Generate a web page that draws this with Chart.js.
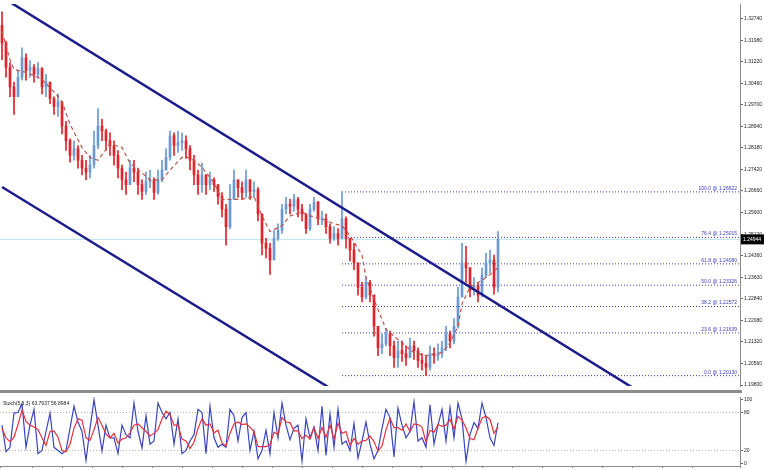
<!DOCTYPE html>
<html>
<head>
<meta charset="utf-8">
<script src="https://cdn.jsdelivr.net/npm/chart.js@4.4.0/dist/chart.umd.min.js"></script>
<style>
  html, body { margin: 0; padding: 0; background: #fff; }
  #wrap { position: relative; width: 764px; height: 470px; overflow: hidden; }
  #main { position: absolute; left: 0; top: 0; }
  #sep { position: absolute; left: 0; top: 390px; width: 742px; height: 3px; background: #8c8c8c; }
  #stoch { position: absolute; left: 0; top: 393px; }
</style>
</head>
<body>
<div id="wrap">
  <canvas id="main" width="764" height="390"></canvas>
  <div id="sep"></div>
  <canvas id="stoch" width="764" height="77"></canvas>
</div>
<script>
// price bars, one per period (open = previous close)
const firstOpen = 1.32500;
const closes = [
  1.31878, 1.31016, 1.30326, 1.29981, 1.30671, 1.31361, 1.30912, 1.31016, 1.30774, 1.30981,
  1.30326, 1.30498, 1.29912, 1.29636, 1.29808, 1.28946, 1.28428, 1.27911, 1.28152, 1.27738,
  1.27462, 1.27324, 1.27566, 1.28256, 1.28946, 1.28773, 1.28428, 1.28256, 1.27911, 1.27462,
  1.27048, 1.26876, 1.27462, 1.27324, 1.26876, 1.26634, 1.26979, 1.27048, 1.26600, 1.27048,
  1.27393, 1.27842, 1.28601, 1.28256, 1.28359, 1.28428, 1.28152, 1.27738, 1.27221, 1.26876,
  1.27221, 1.26876, 1.27048, 1.26876, 1.26462, 1.26013, 1.25392, 1.26358, 1.27048, 1.26772,
  1.26600, 1.27048, 1.26634, 1.26703, 1.25841, 1.24806, 1.24633, 1.24219, 1.24978, 1.25254,
  1.26013, 1.26186, 1.26117, 1.26358, 1.26013, 1.25841, 1.25323, 1.26013, 1.26255, 1.25668,
  1.25668, 1.25392, 1.24978, 1.25151, 1.24978, 1.25668, 1.24978, 1.24564, 1.24116, 1.23253,
  1.22908, 1.23426, 1.22977, 1.21873, 1.21114, 1.21252, 1.21597, 1.21183, 1.20769, 1.21011,
  1.20907, 1.20769, 1.21183, 1.21011, 1.20666, 1.20562, 1.20424, 1.20907, 1.20838, 1.20942,
  1.21114, 1.21597, 1.21356, 1.21873, 1.22908, 1.24116, 1.23943, 1.23150, 1.23322, 1.22977,
  1.23667, 1.24116, 1.24219, 1.23253, 1.24944
];
const highs = [
  1.32982, 1.31950, 1.31188, 1.30498, 1.30912, 1.31706, 1.31500, 1.31257, 1.31119, 1.31188,
  1.31016, 1.30774, 1.30498, 1.29981, 1.30084, 1.29808, 1.29118, 1.28497, 1.28428, 1.28256,
  1.27911, 1.27738, 1.27911, 1.28773, 1.29567, 1.29187, 1.28842, 1.28704, 1.28428, 1.28083,
  1.27566, 1.27324, 1.27738, 1.27738, 1.27462, 1.27048, 1.27324, 1.27393, 1.27117, 1.27393,
  1.27738, 1.28152, 1.28773, 1.28704, 1.28773, 1.28704, 1.28601, 1.28256, 1.27911, 1.27393,
  1.27635, 1.27221, 1.27324, 1.27117, 1.26876, 1.26600, 1.26186, 1.26876, 1.27393, 1.27048,
  1.26979, 1.27393, 1.27048, 1.26979, 1.26772, 1.25841, 1.24978, 1.24806, 1.25254, 1.25496,
  1.26186, 1.26427, 1.26358, 1.26531, 1.26427, 1.26186, 1.25841, 1.26186, 1.26427, 1.26289,
  1.25944, 1.25841, 1.25496, 1.25392, 1.25323, 1.26622, 1.25737, 1.24978, 1.24806, 1.24116,
  1.23426, 1.23598, 1.23495, 1.22977, 1.21873, 1.21597, 1.21804, 1.21701, 1.21356, 1.21356,
  1.21356, 1.21183, 1.21459, 1.21356, 1.21114, 1.20907, 1.20838, 1.21183, 1.21114, 1.21252,
  1.21356, 1.21873, 1.21701, 1.22149, 1.23253, 1.24806, 1.24702, 1.23943, 1.23598, 1.23426,
  1.23943, 1.24461, 1.24564, 1.24392, 1.25220
];
const lows = [
  1.31292, 1.30671, 1.29981, 1.29360, 1.29981, 1.30567, 1.30567, 1.30671, 1.30498, 1.30636,
  1.30084, 1.29981, 1.29739, 1.29360, 1.29291, 1.28670, 1.28083, 1.27669, 1.27738, 1.27462,
  1.27221, 1.27048, 1.27117, 1.27462, 1.28152, 1.28428, 1.28083, 1.27911, 1.27566, 1.27117,
  1.26703, 1.26531, 1.26876, 1.26979, 1.26531, 1.26358, 1.26531, 1.26772, 1.26358, 1.26531,
  1.26979, 1.27393, 1.27738, 1.27911, 1.28014, 1.28083, 1.27807, 1.27393, 1.26876, 1.26531,
  1.26600, 1.26531, 1.26703, 1.26634, 1.26186, 1.25737, 1.24737, 1.25323, 1.26358, 1.26427,
  1.26358, 1.26427, 1.26358, 1.26427, 1.25599, 1.24392, 1.24288, 1.23702, 1.24219, 1.24909,
  1.25151, 1.25841, 1.25841, 1.25944, 1.25737, 1.25599, 1.25151, 1.25254, 1.25944, 1.25461,
  1.25461, 1.25151, 1.24806, 1.24909, 1.24737, 1.24978, 1.24633, 1.24185, 1.23874, 1.22977,
  1.22736, 1.22840, 1.22736, 1.21528, 1.20838, 1.20907, 1.21183, 1.20838, 1.20424, 1.20424,
  1.20631, 1.20493, 1.20769, 1.20700, 1.20424, 1.20321, 1.20130, 1.20321, 1.20562, 1.20666,
  1.20769, 1.21011, 1.21114, 1.21252, 1.21804, 1.22908, 1.23426, 1.22908, 1.22977, 1.22736,
  1.22908, 1.23598, 1.23771, 1.23012, 1.23081
];

// moving average (dashed), read at some bars
const maIdx = [0, 2, 3, 6, 10, 13, 15, 17, 20, 22, 24, 27, 30, 32, 35, 37, 40, 42, 45, 47,
  50, 53, 55, 60, 63, 65, 67, 70, 72, 75, 77, 80, 83, 85, 87, 90, 91, 94, 96, 100,
  103, 106, 110, 112, 114, 115, 117, 120, 122, 124];
const maVals = [1.32292, 1.31292, 1.30947, 1.30843, 1.30602, 1.30153, 1.29808, 1.29015, 1.28187, 1.27842,
  1.27738, 1.28325, 1.28187, 1.27635, 1.27290, 1.27048, 1.27048, 1.27393, 1.27842, 1.27842,
  1.27497, 1.26945, 1.26358, 1.26358, 1.26462, 1.25772, 1.25220, 1.25427, 1.25772, 1.25910,
  1.25772, 1.25668, 1.25496, 1.25427, 1.25081, 1.24392, 1.23598, 1.22460, 1.21769, 1.21287,
  1.20942, 1.20838, 1.20942, 1.21287, 1.21873, 1.22667, 1.23253, 1.23495, 1.23702, 1.23943];

// trend channel (bar index, price)
const upperIdx = [0, 160];
const upperPrice = [1.33500, 1.19500];
const lowerIdx = [0, 85];
const lowerPrice = [1.26796, 1.19430];

// fibonacci levels
const fibStart = 85;
const fibPct = [100.0, 76.4, 61.8, 50.0, 38.2, 23.6, 0.0];
const fibPrices = [1.26622, 1.25015, 1.24080, 1.23326, 1.22572, 1.21639, 1.20130];
const lastPrice = 1.24944;

const yTicks = [1.32740, 1.31980, 1.31220, 1.30460, 1.29700, 1.28940, 1.28180, 1.27420, 1.26660,
  1.25900, 1.25120, 1.24360, 1.23600, 1.22840, 1.22080, 1.21320, 1.20560, 1.19800];

// stochastic (5,3,3)
const stochMain = [
  60, 18, 25, 79, 80, 94, 25, 60, 85, 15, 20, 50, 79, 25, 20, 15, 20, 55, 90, 65,
  50, 4, 55, 100, 60, 19, 60, 40, 40, 15, 60, 45, 40, 95, 50, 24, 75, 30, 35, 95,
  80, 70, 80, 30, 70, 15, 20, 35, 45, 85, 80, 15, 90, 40, 25, 30, 25, 85, 75, 35,
  72, 80, 20, 50, 7, 20, 52, 15, 80, 40, 95, 60, 37, 55, 60, 3, 70, 40, 57, 20,
  90, 12, 78, 25, 85, 30, 35, 20, 63, 8, 35, 65, 30, 7, 20, 55, 85, 72, 10, 87,
  60, 40, 50, 97, 35, 40, 25, 92, 30, 60, 85, 35, 88, 40, 95, 70, 3, 45, 64, 55,
  95, 72, 40, 28, 63.79
];
const stochSignal = [
  55, 40, 34, 41, 61, 84, 66, 60, 57, 53, 40, 28, 50, 51, 41, 20, 18, 30, 55, 70,
  68, 40, 36, 53, 72, 60, 46, 40, 47, 32, 38, 40, 48, 60, 62, 56, 50, 43, 47, 53,
  70, 82, 77, 60, 60, 38, 35, 23, 33, 55, 70, 60, 62, 48, 52, 32, 27, 47, 62, 65,
  61, 62, 57, 50, 26, 26, 26, 29, 49, 45, 72, 65, 64, 51, 51, 39, 44, 38, 56, 39,
  56, 41, 60, 38, 63, 47, 50, 28, 39, 30, 35, 36, 43, 34, 19, 27, 53, 71, 56, 56,
  52, 62, 50, 62, 61, 57, 33, 52, 49, 61, 58, 60, 69, 54, 74, 68, 56, 39, 37, 55,
  71, 74, 69, 47, 56.90
];
const stochTicks = [0, 20, 80, 100];
const stochLevels = [20, 80];
const stochTitle = "Stoch(5,3,3) 63.7937 56.8984";

const xMin = -0.5, xMax = 184.5;
const bullColor = "#6a98d6";
const bearColor = "#e3222a";
const fibColor = "#3b3bbf";
const font5 = { size: 5, family: "Liberation Sans" };

let opens = closes.map((c, i) => i === 0 ? firstOpen : closes[i - 1]);
let barColors = closes.map((c, i) => c >= opens[i] ? bullColor : bearColor);

let fibSets = fibPrices.map(p => ({
  type: "line",
  data: [{ x: fibStart, y: p }, { x: xMax, y: p }],
  borderColor: fibColor,
  borderWidth: 1,
  borderDash: [1, 2],
  pointRadius: 0,
  order: 9
}));

const overlay = {
  id: "overlay",
  afterDatasetsDraw(chart) {
    const { ctx, chartArea, scales: { y } } = chart;
    ctx.save();
    ctx.font = '5px "Liberation Sans"';
    ctx.fillStyle = fibColor;
    ctx.textAlign = "right";
    ctx.textBaseline = "bottom";
    fibPct.forEach((p, k) => {
      let py = y.getPixelForValue(fibPrices[k]);
      ctx.fillText(p.toFixed(1) + " @ " + fibPrices[k].toFixed(5), chartArea.right - 3, py - 1);
    });
    ctx.restore();
  },
  afterDraw(chart) {
    const { ctx, chartArea, scales: { y } } = chart;
    let py = y.getPixelForValue(lastPrice);
    ctx.save();
    ctx.fillStyle = "#000";
    ctx.fillRect(chartArea.right + 1, py - 5, 23, 10);
    ctx.fillStyle = "#fff";
    ctx.font = '5px "Liberation Sans"';
    ctx.textAlign = "left";
    ctx.textBaseline = "middle";
    ctx.fillText(lastPrice.toFixed(5), chartArea.right + 3, py);
    ctx.restore();
  }
};

new Chart(document.getElementById("main"), {
  type: "line",
  data: {
    datasets: [
      {
        type: "line",
        data: [{ x: xMin, y: lastPrice }, { x: xMax, y: lastPrice }],
        borderColor: "#bfe3ee",
        borderWidth: 1,
        pointRadius: 0,
        order: 10
      },
      ...fibSets,
      {
        type: "bar",
        data: closes.map((c, i) => ({ x: i, y: [lows[i], highs[i]] })),
        backgroundColor: barColors,
        barThickness: 1,
        grouped: false,
        order: 5
      },
      {
        type: "bar",
        data: closes.map((c, i) => ({ x: i, y: [opens[i], c] })),
        backgroundColor: barColors,
        barThickness: 2,
        minBarLength: 1,
        grouped: false,
        order: 4
      },
      {
        type: "line",
        data: maIdx.map((b, k) => ({ x: b, y: maVals[k] })),
        borderColor: "#b9574f",
        borderWidth: 1.2,
        borderDash: [4, 3],
        pointRadius: 0,
        order: 3
      },
      {
        type: "line",
        data: upperIdx.map((b, k) => ({ x: b, y: upperPrice[k] })),
        borderColor: "#1c1c8a",
        borderWidth: 2.5,
        pointRadius: 0,
        order: 2
      },
      {
        type: "line",
        data: lowerIdx.map((b, k) => ({ x: b, y: lowerPrice[k] })),
        borderColor: "#1c1c8a",
        borderWidth: 2.5,
        pointRadius: 0,
        order: 2
      }
    ]
  },
  options: {
    responsive: false,
    animation: false,
    layout: { padding: 0 },
    plugins: { legend: { display: false }, tooltip: { enabled: false } },
    scales: {
      x: { type: "linear", min: xMin, max: xMax, display: false, offset: false },
      y: {
        position: "right",
        min: 1.19765,
        max: 1.33258,
        afterFit(s) { s.width = 24; },
        afterBuildTicks(s) { s.ticks = yTicks.map(v => ({ value: v })); },
        ticks: { font: font5, color: "#222", padding: 1, autoSkip: false, callback: v => v.toFixed(5) },
        grid: { drawOnChartArea: false, tickLength: 3, color: "#666" },
        border: { color: "#8c8c8c", width: 1 }
      }
    }
  },
  plugins: [overlay]
});

const stochLabel = {
  id: "stochLabel",
  afterDraw(chart) {
    const { ctx, chartArea } = chart;
    ctx.save();
    ctx.font = '5px "Liberation Sans"';
    ctx.fillStyle = "#222";
    ctx.textAlign = "left";
    ctx.textBaseline = "top";
    ctx.fillText(stochTitle, 3, chartArea.top + 4);
    ctx.restore();
  }
};

new Chart(document.getElementById("stoch"), {
  type: "line",
  data: {
    datasets: [
      ...stochLevels.map(v => ({
        data: [{ x: xMin, y: v }, { x: xMax, y: v }],
        borderColor: "#b5b5b5",
        borderWidth: 1,
        borderDash: [1, 2],
        pointRadius: 0,
        order: 5
      })),
      {
        data: stochMain.map((v, i) => ({ x: i, y: v })),
        borderColor: "#3a45c4",
        borderWidth: 1.2,
        pointRadius: 0,
        order: 2
      },
      {
        data: stochSignal.map((v, i) => ({ x: i, y: v })),
        borderColor: "#e8303a",
        borderWidth: 1.2,
        pointRadius: 0,
        order: 1
      }
    ]
  },
  options: {
    responsive: false,
    animation: false,
    layout: { padding: { top: 2, bottom: 0, left: 0, right: 0 } },
    plugins: { legend: { display: false }, tooltip: { enabled: false } },
    scales: {
      x: {
        type: "linear", min: xMin, max: xMax, offset: false,
        afterFit(s) { s.height = 2; },
        ticks: { display: false, stepSize: 7.5 },
        grid: { drawOnChartArea: false, tickLength: 2, color: "#888" },
        border: { color: "#8c8c8c", width: 1 }
      },
      y: {
        position: "right",
        min: -4.5,
        max: 104.5,
        afterFit(s) { s.width = 24; },
        afterBuildTicks(s) { s.ticks = stochTicks.map(v => ({ value: v })); },
        ticks: { font: font5, color: "#222", padding: 1, autoSkip: false },
        grid: { drawOnChartArea: false, tickLength: 3, color: "#666" },
        border: { color: "#8c8c8c", width: 1 }
      }
    }
  },
  plugins: [stochLabel]
});
</script>
</body>
</html>
